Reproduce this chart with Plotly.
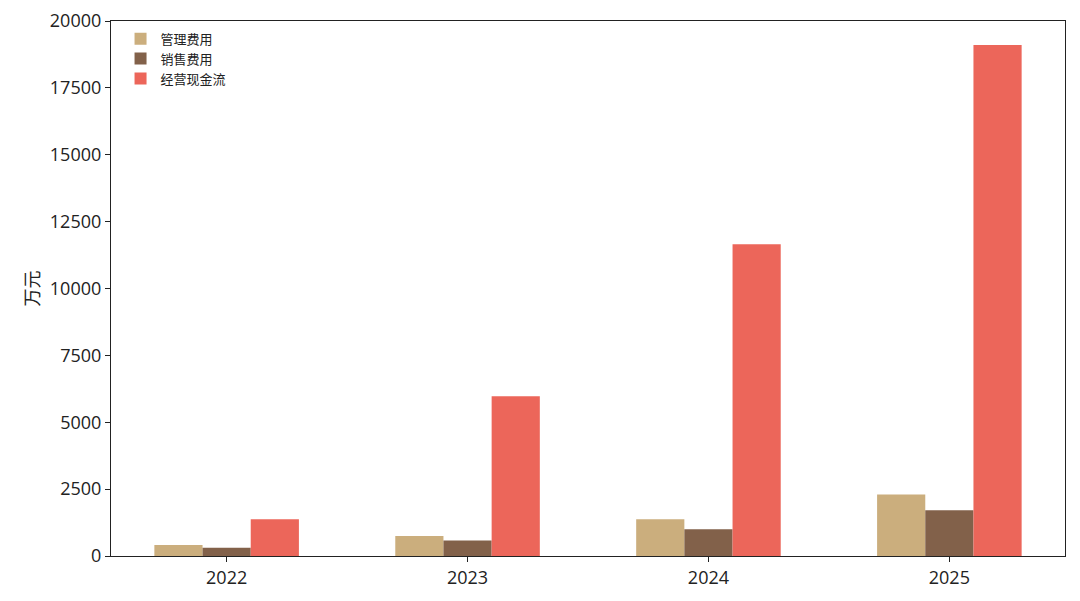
import plotly.graph_objects as go

years = ["2022", "2023", "2024", "2025"]
admin_exp = [410, 750, 1375, 2300]
sales_exp = [310, 575, 1000, 1710]
op_cash = [1370, 5970, 11650, 19100]
y_ticks = [0, 2500, 5000, 7500, 10000, 12500, 15000, 17500, 20000]

series = [
    ("管理费用", admin_exp, "#CBAE7D"),
    ("销售费用", sales_exp, "#82614A"),
    ("经营现金流", op_cash, "#EC665A"),
]

FONT = "'Open Sans', 'Noto Sans CJK SC', sans-serif"

fig = go.Figure()
for name, vals, color in series:
    fig.add_trace(go.Bar(
        x=years, y=vals, name=name,
        marker=dict(color=color, line=dict(width=0)),
    ))

fig.update_layout(
    width=1080, height=601,
    barmode="group", bargap=0.4, bargroupgap=0,
    plot_bgcolor="white", paper_bgcolor="white",
    margin=dict(l=103, r=23, t=13, b=53),
    font=dict(family=FONT, size=18, color="#222"),
    legend=dict(
        x=0.01, y=0.995, xanchor="left", yanchor="top",
        bgcolor="rgba(0,0,0,0)", font=dict(size=13, family=FONT),
        itemwidth=30, tracegroupgap=0,
    ),
    showlegend=True,
)

fig.update_xaxes(
    type="category", range=[-0.48, 3.48], automargin=False,
    showline=True, linecolor="#222", linewidth=1.2, mirror=True,
    ticks="outside", ticklen=5, tickcolor="#222",
    showgrid=False, tickfont=dict(size=18),
)
fig.update_yaxes(
    range=[0, 20000], tickvals=y_ticks, ticktext=[str(v) for v in y_ticks],
    automargin=False,
    showline=True, linecolor="#222", linewidth=1.2, mirror=True,
    ticks="outside", ticklen=5, tickcolor="#222",
    showgrid=False, zeroline=False, tickfont=dict(size=18),
    title=dict(text="万元", font=dict(size=18), standoff=5),
)

fig.write_html("out.html")
